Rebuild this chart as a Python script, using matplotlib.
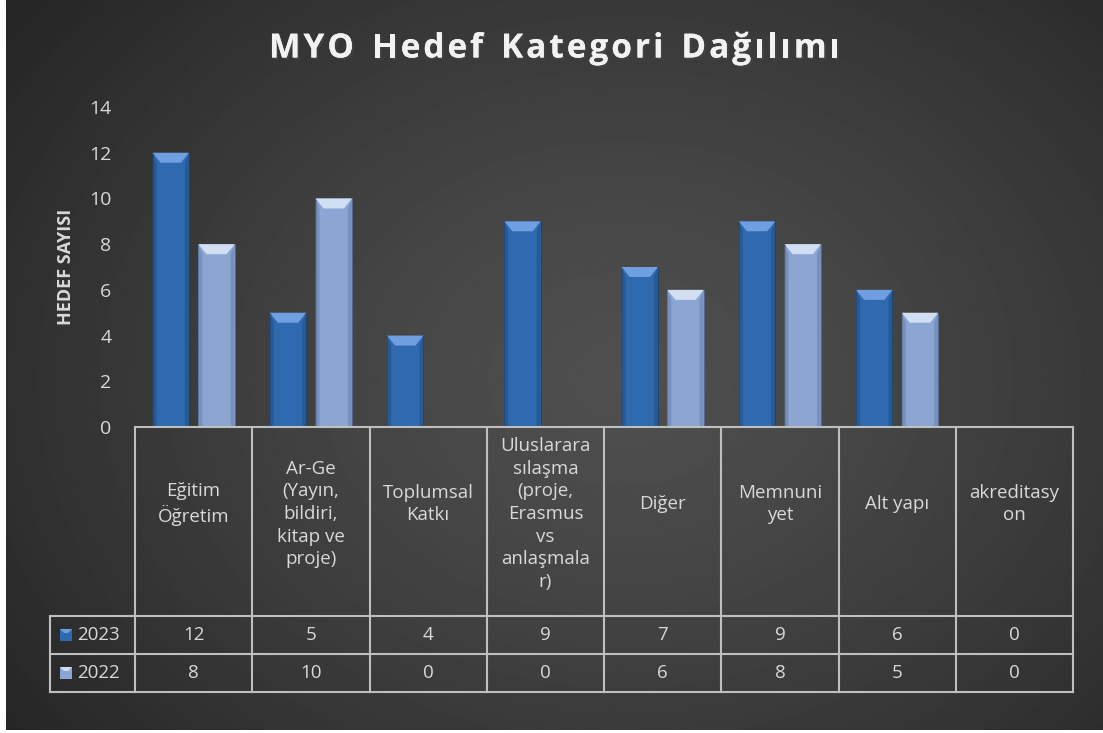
import numpy as np
import matplotlib
matplotlib.use("Agg")
import matplotlib.pyplot as plt
import matplotlib.patheffects as pe
from matplotlib.patches import Rectangle, Polygon

plt.rcParams['font.family'] = ['Open Sans', 'DejaVu Sans']

# data
categories = ["Eğitim\nÖğretim", "Ar-Ge\n(Yayın,\nbildiri,\nkitap ve\nproje)", "Toplumsal\nKatkı",
              "Uluslarara\nsılaşma\n(proje,\nErasmus\nvs\nanlaşmala\nr)", "Diğer", "Memnuni\nyet",
              "Alt yapı", "akreditasy\non"]
series_names = ["2023", "2022"]
vals_2023 = [12, 5, 4, 9, 7, 9, 6, 0]
vals_2022 = [8, 10, 0, 0, 6, 8, 5, 0]
series_vals = [vals_2023, vals_2022]
title = "MYO Hedef Kategori Dağılımı"

face = ["#2f69b0", "#8ca6d4"]
top_col = ["#6f9fe0", "#d2def2"]
side_col = ["#24538d", "#7088b5"]
txt = "#d9d9d9"

W, H = 1103, 733
fig = plt.figure(figsize=(W / 100, H / 100), dpi=100)
fig.patch.set_facecolor("white")

# background radial gradient (thin white strip left/bottom like the screenshot)
bg = fig.add_axes([6 / W, 3 / H, 1 - 6 / W, 1 - 3 / H])
yy, xx = np.mgrid[0:H, 0:W]
r = np.sqrt(((xx - 620) / 760.0) ** 2 + ((yy - 380) / 600.0) ** 2)
r = np.clip(r, 0, 1)
c0, c1 = 0.31, 0.15
img = c0 + (c1 - c0) * r ** 1.3
bg.imshow(img, cmap="gray", vmin=0, vmax=1, extent=[0, W, H, 0], aspect="auto")
bg.set_xlim(0, W)
bg.set_ylim(H, 0)
bg.axis("off")


def fx(px):
    return px / W


def fy(py):
    return 1 - py / H


L, R, Y0, Y14 = 135, 1073, 427, 107
ax = fig.add_axes([fx(L), fy(Y0), fx(R) - fx(L), fy(Y14) - fy(Y0)])
ax.set_facecolor("none")
n = len(categories)
ax.set_xlim(-0.5, n - 0.5)
ax.set_ylim(0, 14)
ax.set_yticks(range(0, 15, 2))
ax.tick_params(axis="y", colors=txt, labelsize=14, length=0, pad=17)
ax.set_xticks([])
for s in ax.spines.values():
    s.set_visible(False)
ax.set_ylabel("HEDEF SAYISI", color=txt, fontsize=13, fontweight="bold", labelpad=10)

bw = 0.31
offs = [-0.195, 0.195]
ppu_y = (Y0 - Y14) / 14.0
ppu_x = (R - L) / n
bev_y = 10 / ppu_y
bev_x = 8 / ppu_x
x = np.arange(n)
for k, vals in enumerate(series_vals):
    for i, v in enumerate(vals):
        if v <= 0:
            continue
        x0 = x[i] + offs[k] - bw / 2
        x1 = x0 + bw
        ax.add_patch(Rectangle((x0, 0), bw, v, facecolor=face[k],
                               edgecolor="#1e3c66" if k == 0 else "#50658c", lw=0.6))
        ax.add_patch(Polygon([(x0, 0), (x0 + bev_x * 0.5, 0), (x0 + bev_x * 0.5, v - bev_y), (x0, v)],
                             closed=True, facecolor=side_col[k], lw=0, alpha=0.7))
        ax.add_patch(Polygon([(x1, 0), (x1 - bev_x * 0.5, 0), (x1 - bev_x * 0.5, v - bev_y), (x1, v)],
                             closed=True, facecolor=side_col[k], lw=0, alpha=0.7))
        ax.add_patch(Polygon([(x0, v), (x1, v), (x1 - bev_x, v - bev_y), (x0 + bev_x, v - bev_y)],
                             closed=True, facecolor=top_col[k], lw=0))

# title with letter spacing: place characters one by one
renderer = fig.canvas.get_renderer()
tkw = dict(color="#f2f2f2", fontsize=24, fontweight="bold", va="center", ha="left",
           path_effects=[pe.withSimplePatchShadow(offset=(1.5, -1.5), alpha=0.5), pe.Normal()])
spacing = 3.0
widths = []
for ch in title:
    t = fig.text(0, 0, ch if ch != " " else "n", **tkw)
    w = t.get_window_extent(renderer).width
    widths.append(w * (0.55 if ch == " " else 1.0))
    t.remove()
total = sum(widths) + spacing * (len(title) - 1)
xpos = (W + 6) / 2 - total / 2
for ch, w in zip(title, widths):
    if ch != " ":
        fig.text(fx(xpos), fy(49), ch, **tkw)
    xpos += w + spacing

# data table
tab = fig.add_axes([0, 0, 1, 1])
tab.set_xlim(0, W)
tab.set_ylim(H, 0)
tab.axis("off")
tab.set_facecolor("none")
lc = "#bfbfbf"
TL, HB, R1, R2 = 50, 616, 654, 692
cw = (R - L) / n
tab.plot([L, R], [Y0, Y0], color=lc, lw=1.5)
for yv in (HB, R1, R2):
    tab.plot([TL, R], [yv, yv], color=lc, lw=1.5)
tab.plot([TL, TL], [HB, R2], color=lc, lw=1.5)
for i in range(n + 1):
    tab.plot([L + i * cw] * 2, [Y0, R2], color=lc, lw=1.5)
for i, c in enumerate(categories):
    nl = c.count("\n") + 1
    yc = 504 if nl <= 2 else 514
    tab.text(L + (i + 0.5) * cw, yc, c, ha="center", va="center", color=txt,
             fontsize=13.5, linespacing=1.33)
rows_y = [(HB + R1) / 2, (R1 + R2) / 2]
for k, vals in enumerate(series_vals):
    for i, v in enumerate(vals):
        tab.text(L + (i + 0.5) * cw, rows_y[k], str(v), ha="center", va="center",
                 color=txt, fontsize=13.5)
    ky = rows_y[k]
    tab.add_patch(Rectangle((60, ky - 6), 12, 12, facecolor=face[k], edgecolor="none"))
    tab.add_patch(Polygon([(60, ky - 6), (72, ky - 6), (68, ky - 2), (64, ky - 2)],
                          facecolor=top_col[k], lw=0))
    tab.text(77, ky, series_names[k], ha="left", va="center", color=txt, fontsize=13.5)

fig.savefig("out.png", dpi=100)
